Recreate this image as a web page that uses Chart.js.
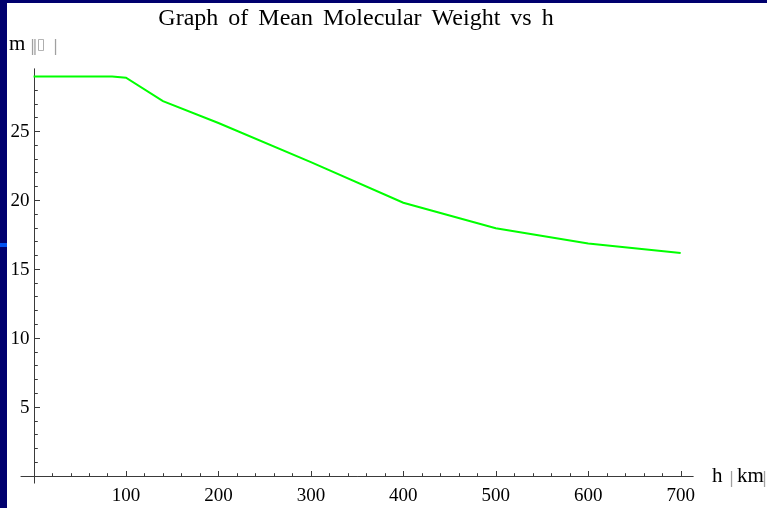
<!DOCTYPE html>
<html lang="en">
<head>
  <meta charset="UTF-8" />
  <title>Graph of Mean Molecular Weight vs h</title>
  <script src="https://cdn.jsdelivr.net/npm/chart.js"></script>
  <style>
    body {
      margin: 0;
      width: 767px;
      height: 508px;
      overflow: hidden;
      position: relative;
      background-color: #00006e;
    }
    .mark {
      position: absolute;
      left: 0;
      top: 243px;
      width: 7px;
      height: 4px;
      background-color: #0050f0;
    }
    .sheet {
      position: absolute;
      left: 7px;
      top: 3px;
      width: 760px;
      height: 505px;
      background-color: #ffffff;
    }
  </style>
</head>
<body>
  <div class="mark"></div>
  <div class="sheet"><canvas id="mwChart"></canvas></div>

  <script>
    // h in km, mean molecular weight m
    const heights = [0, 85, 100, 140, 200, 300, 400, 500, 600, 700];
    const meanWeight = [28.96, 28.96, 28.87, 27.18, 25.59, 22.75, 19.80, 17.95, 16.84, 16.15];

    const xTicks = [100, 200, 300, 400, 500, 600, 700];
    const yTicks = [5, 10, 15, 20, 25];
    const xMinorStep = 20;
    const yMinorStep = 1;

    const titleText = 'Graph of Mean Molecular Weight vs h';

    const serif = '"Liberation Serif", "Times New Roman", serif';

    // draws Mathematica-style axes crossing at the origin
    const axesPlugin = {
      id: 'axesAtOrigin',
      beforeDatasetsDraw(chart) {
        const { ctx, chartArea } = chart;
        const xs = chart.scales.x, ys = chart.scales.y;
        const x0 = Math.round(xs.getPixelForValue(0)) + 0.5;
        const y0 = Math.round(ys.getPixelForValue(0)) + 0.5;

        ctx.save();
        ctx.strokeStyle = '#3a3a3a';
        ctx.lineWidth = 1;
        ctx.beginPath();
        ctx.moveTo(chartArea.left, y0);
        ctx.lineTo(chartArea.right, y0);
        ctx.moveTo(x0, chartArea.top);
        ctx.lineTo(x0, chartArea.bottom);

        for (let v = xMinorStep; v <= xs.max; v += xMinorStep) {
          const len = xTicks.includes(v) ? 5.5 : 3.3;
          const px = Math.round(xs.getPixelForValue(v)) + 0.5;
          ctx.moveTo(px, y0);
          ctx.lineTo(px, y0 - len);
        }
        for (let v = yMinorStep; v <= ys.max; v += yMinorStep) {
          const len = yTicks.includes(v) ? 5.5 : 3.3;
          const py = Math.round(ys.getPixelForValue(v)) + 0.5;
          ctx.moveTo(x0, py);
          ctx.lineTo(x0 + len, py);
        }
        ctx.stroke();

        ctx.fillStyle = '#000';
        ctx.font = '19px ' + serif;
        ctx.textBaseline = 'alphabetic';
        ctx.textAlign = 'center';
        xTicks.forEach(v => ctx.fillText(String(v), xs.getPixelForValue(v), y0 + 24.5));
        ctx.textAlign = 'right';
        yTicks.forEach(v => ctx.fillText(String(v), x0 - 5, ys.getPixelForValue(v) + 6));

        // title, with the wider word gaps of the original
        ctx.save();
        ctx.textAlign = 'center';
        ctx.font = '24px ' + serif;
        if ('wordSpacing' in ctx) ctx.wordSpacing = '4px';
        ctx.fillText(titleText, 349, 22);
        ctx.restore();

        // axis labels (brackets came out as missing glyphs in the original)
        ctx.textAlign = 'left';
        ctx.font = '21px ' + serif;
        ctx.fillText('m', 2, 47);
        ctx.fillText('h', 705, 478.5);
        ctx.fillText('km', 730, 478.5);
        ctx.fillStyle = '#a0a0a0';
        ctx.font = '15px "DejaVu Sans"';
        ctx.fillText('\u2016', 23, 48);
        ctx.fillText('\u25AF', 30, 46);
        ctx.fillText('|', 46, 48);
        ctx.fillText('|', 722, 480);
        ctx.fillText('|', 755, 480);
        ctx.restore();
      }
    };

    new Chart(document.getElementById('mwChart'), {
      type: 'line',
      data: {
        datasets: [{
          data: heights.map((h, i) => ({ x: h, y: meanWeight[i] })),
          borderColor: '#00ff00',
          borderWidth: 2,
          pointRadius: 0,
          tension: 0,
          fill: false
        }]
      },
      options: {
        responsive: true,
        maintainAspectRatio: false,
        animation: false,
        layout: { padding: { left: 13.6, right: 73.4, top: 65.4, bottom: 24.5 } },
        plugins: {
          legend: { display: false },
          title: { display: false },
          tooltip: { enabled: false }
        },
        scales: {
          x: { type: 'linear', display: false, min: -14, max: 714 },
          y: { type: 'linear', display: false, min: -0.57, max: 29.55 }
        }
      },
      plugins: [axesPlugin]
    });
  </script>
</body>
</html>
